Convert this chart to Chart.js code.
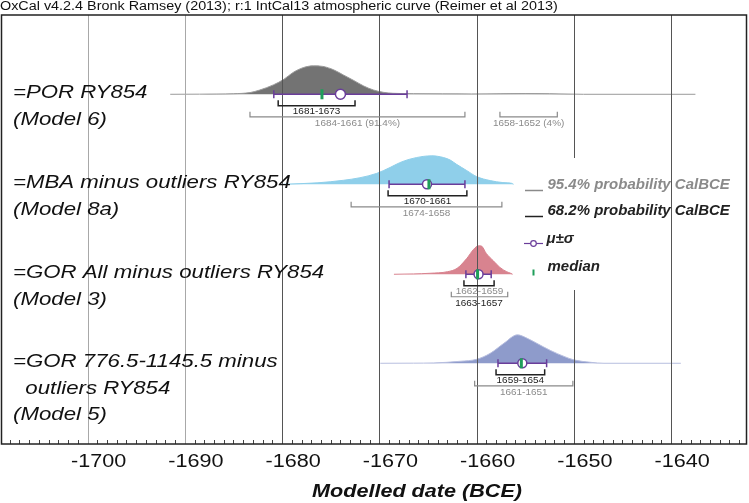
<!DOCTYPE html>
<html>
<head>
<meta charset="utf-8">
<script src="https://cdn.jsdelivr.net/npm/chart.js@4.4.1/dist/chart.umd.min.js"></script>
<style>
  html, body { margin: 0; padding: 0; background: #fff; }
  #wrap { width: 749px; height: 503px; }
</style>
</head>
<body>
<div id="wrap"><canvas id="oxcal" width="749" height="503"></canvas></div>
<script>
// --- values ---
const titleText = 'OxCal v4.2.4 Bronk Ramsey (2013); r:1 IntCal13 atmospheric curve (Reimer et al 2013)';
const axisTitle = 'Modelled date (BCE)';
const tickValues = [-1700, -1690, -1680, -1670, -1660, -1650, -1640];
const tickLabels = ['-1700', '-1690', '-1680', '-1670', '-1660', '-1650', '-1640'];

const sampleNames = [
  ['=POR RY854', '(Model 6)'],
  ['=MBA minus outliers RY854', '(Model 8a)'],
  ['=GOR All minus outliers RY854', '(Model 3)'],
  ['=GOR 776.5-1145.5 minus', '  outliers RY854', '(Model 5)']
];

// posterior densities (relative, peak = 1)
const porYears = [-1691.5, -1688.5, -1686.7, -1685.0, -1683.3, -1682.3, -1680.9, -1679.8, -1678.9, -1677.8,
  -1676.8, -1675.8, -1674.7, -1673.7, -1672.6, -1671.6, -1670.6, -1669.6, -1668.6, -1666.5,
  -1663.5, -1660.5, -1657.5, -1655.0, -1652.5, -1650.5, -1649.0, -1637.5];
const porProb = [0, 0.004, 0.01, 0.02, 0.06, 0.15, 0.33, 0.53, 0.76, 0.94,
  1.0, 0.98, 0.86, 0.68, 0.48, 0.29, 0.15, 0.07, 0.035, 0.022,
  0.015, 0.012, 0.02, 0.025, 0.02, 0.008, 0, 0];

const mbaYears = [-1679.9, -1676.4, -1673.7, -1672.0, -1670.3, -1668.9, -1667.9, -1666.9, -1665.5, -1664.6,
  -1663.4, -1662.7, -1662.1, -1661.0, -1660.0, -1658.6, -1657.3, -1656.4, -1656.2];
const mbaProb = [0, 0.05, 0.14, 0.23, 0.38, 0.59, 0.76, 0.88, 0.98, 1.0,
  0.94, 0.85, 0.71, 0.48, 0.27, 0.13, 0.06, 0.035, 0];

const gorAllYears = [-1668.5, -1666.5, -1664.8, -1663.0, -1662.0, -1661.0, -1660.3, -1659.8, -1659.5, -1659.0,
  -1658.3, -1657.6, -1656.9, -1656.5, -1656.3];
const gorAllProb = [0, 0.012, 0.035, 0.09, 0.21, 0.56, 0.88, 1.0, 0.99, 0.73,
  0.48, 0.24, 0.09, 0.035, 0];

const gor776Years = [-1669.9, -1666.5, -1664.4, -1661.7, -1660.0, -1658.6, -1657.2, -1655.8, -1654.8, -1653.8,
  -1652.4, -1651.0, -1650.0, -1648.3, -1646.9, -1639.0];
const gor776Prob = [0, 0.004, 0.012, 0.07, 0.14, 0.35, 0.7, 1.0, 0.88, 0.7,
  0.45, 0.24, 0.12, 0.035, 0, 0];

// highest posterior density ranges (astronomical years) and their labels
const range68 = [[-1680.4, -1672.5], [-1669.1, -1661.0], [-1661.3, -1658.2], [-1658.0, -1653.0]];
const range95 = [
  [[-1683.3, -1661.2], [-1657.6, -1651.7]],
  [[-1672.9, -1657.4]],
  [[-1662.6, -1656.8]],
  [[-1660.2, -1650.1]]
];
const label68 = ['1681-1673', '1670-1661', '1663-1657', '1659-1654'];
const label95 = [['1684-1661 (91.4%)', '1658-1652 (4%)'], ['1674-1658'], ['1662-1659'], ['1661-1651']];

// mean, sigma, median
const means = [-1674.0, -1665.1, -1659.8, -1655.3];
const sigmas = [6.85, 3.9, 1.3, 2.5];
const medians = [-1675.9, -1664.9, -1659.9, -1655.4];

const legendLabels = ['95.4% probability CalBCE', '68.2% probability CalBCE', 'μ±σ', 'median'];

// --- layout / style ---
const X_MIN = -1708.9, X_MAX = -1632.3;
const Y_MAX = 4.767;                 // rows are ~1 unit apart
const ROW_BASE = [0.881, 1.881, 2.881, 3.870];
const PEAK_H = 0.316;
const SWAP_LABELS = [false, false, true, false];
const FILL = ['#737373', '#8fcfea', '#d8838f', '#8e9bcb'];
const EDGE = ['#9a9a9a', '#8fcfea', '#d8838f', '#b7bedf'];
const PURPLE = '#6a3d9a', GREEN = '#1f9e5a', DARK = '#222222', GREY = '#8a8a8a';
const FONT = '"Liberation Sans", Arial, Helvetica, sans-serif';

const dists = [[porYears, porProb], [mbaYears, mbaProb], [gorAllYears, gorAllProb], [gor776Years, gor776Prob]];

const datasets = dists.map(([yrs, pr], i) => ({
  data: yrs.map((yr, k) => ({ x: yr, y: ROW_BASE[i] - pr[k] * PEAK_H })),
  backgroundColor: FILL[i],
  borderColor: EDGE[i],
  borderWidth: 1,
  pointRadius: 0,
  cubicInterpolationMode: 'monotone',
  fill: { value: ROW_BASE[i] }
}));

// draw text squeezed/stretched horizontally like the original export
function drawText(ctx, str, x, y, font, color, align, sx) {
  ctx.save();
  ctx.font = font;
  ctx.fillStyle = color;
  ctx.textAlign = align;
  ctx.textBaseline = 'middle';
  ctx.translate(x, y);
  ctx.scale(sx, 1);
  ctx.fillText(str, 0, 0);
  ctx.restore();
}

function drawBracket(ctx, x1, x2, yTop, yBot, color, lw) {
  ctx.strokeStyle = color;
  ctx.lineWidth = lw;
  ctx.beginPath();
  ctx.moveTo(x1, yTop);
  ctx.lineTo(x1, yBot);
  ctx.lineTo(x2, yBot);
  ctx.lineTo(x2, yTop);
  ctx.stroke();
}

const oxcalDecor = {
  id: 'oxcalDecor',
  afterDatasetsDraw(chart) {
    const { ctx, chartArea: a, scales: { x, y } } = chart;
    ctx.save();

    // vertical grid lines, over the densities
    tickValues.forEach((v, i) => {
      const px = Math.round(x.getPixelForValue(v)) + 0.5;
      ctx.strokeStyle = i < 2 ? '#a8a8a8' : '#555555';
      ctx.lineWidth = 1;
      ctx.beginPath();
      ctx.moveTo(px, a.top);
      ctx.lineTo(px, a.bottom);
      ctx.stroke();
    });

    // legend backdrop hides the grid behind it
    ctx.fillStyle = '#ffffff';
    ctx.fillRect(518, 158, 147, 132);

    // minor ticks (one per year)
    ctx.strokeStyle = '#444';
    ctx.lineWidth = 1;
    for (let yr = Math.ceil(X_MIN); yr <= X_MAX; yr++) {
      if (yr % 10 === 0) continue;
      const px = Math.round(x.getPixelForValue(yr)) + 0.5;
      ctx.beginPath();
      ctx.moveTo(px, a.bottom);
      ctx.lineTo(px, a.bottom - 4);
      ctx.stroke();
    }

    // frame
    ctx.strokeStyle = DARK;
    ctx.lineWidth = 1.5;
    ctx.strokeRect(a.left + 0.5, a.top, a.right - a.left, a.bottom - a.top);

    const smallFont = '9.3px ' + FONT;
    ROW_BASE.forEach((base, r) => {
      const by = y.getPixelForValue(base);

      // 68.2% bracket
      const [a1, a2] = range68[r];
      const p1 = x.getPixelForValue(a1), p2 = x.getPixelForValue(a2);
      drawBracket(ctx, p1, p2, by + 6, by + 11.5, DARK, 1.5);

      // 95.4% brackets
      range95[r].forEach(([b1, b2]) => {
        drawBracket(ctx, x.getPixelForValue(b1), x.getPixelForValue(b2), by + 17.5, by + 22.5, GREY, 1.2);
      });

      // range labels
      const upperY = by + 17.5, lowerY = by + 29.5;
      if (!SWAP_LABELS[r]) {
        drawText(ctx, label68[r], (p1 + p2) / 2, upperY, smallFont, DARK, 'center', 1.07);
        range95[r].forEach(([b1, b2], k) => {
          const cx = (x.getPixelForValue(b1) + x.getPixelForValue(b2)) / 2;
          drawText(ctx, label95[r][k], cx, lowerY, smallFont, GREY, 'center', 1.07);
        });
      } else {
        range95[r].forEach(([b1, b2], k) => {
          const cx = (x.getPixelForValue(b1) + x.getPixelForValue(b2)) / 2;
          drawText(ctx, label95[r][k], cx, upperY, smallFont, GREY, 'center', 1.07);
        });
        drawText(ctx, label68[r], (p1 + p2) / 2, lowerY, smallFont, DARK, 'center', 1.07);
      }

      // mu +- sigma
      const m = x.getPixelForValue(means[r]);
      const s1 = x.getPixelForValue(means[r] - sigmas[r]);
      const s2 = x.getPixelForValue(means[r] + sigmas[r]);
      ctx.strokeStyle = PURPLE;
      ctx.lineWidth = 1.5;
      ctx.beginPath();
      ctx.moveTo(s1, by); ctx.lineTo(s2, by);
      ctx.moveTo(s1, by - 4); ctx.lineTo(s1, by + 4);
      ctx.moveTo(s2, by - 4); ctx.lineTo(s2, by + 4);
      ctx.stroke();
      ctx.fillStyle = '#ffffff';
      ctx.beginPath();
      ctx.arc(m, by, r === 0 ? 5 : 4.5, 0, Math.PI * 2);
      ctx.fill();
      ctx.stroke();

      // median
      ctx.fillStyle = GREEN;
      ctx.fillRect(x.getPixelForValue(medians[r]) - 1.5, by - 5, 3, 10);

      // sample names
      sampleNames[r].forEach((line, k) => {
        drawText(ctx, line, 13, by - 1.5 + k * 26.5, 'italic 19px ' + FONT, '#111', 'left', 1.17);
      });
    });

    // legend
    const lf = 'italic bold 14px ' + FONT;
    ctx.lineWidth = 1.5;
    ctx.strokeStyle = GREY;
    ctx.beginPath(); ctx.moveTo(525, 190.5); ctx.lineTo(543, 190.5); ctx.stroke();
    drawText(ctx, legendLabels[0], 547.5, 185, lf, GREY, 'left', 1.07);
    ctx.strokeStyle = DARK;
    ctx.beginPath(); ctx.moveTo(525, 216.5); ctx.lineTo(543, 216.5); ctx.stroke();
    drawText(ctx, legendLabels[1], 547.5, 211.5, lf, DARK, 'left', 1.07);
    ctx.strokeStyle = PURPLE;
    ctx.lineWidth = 1.2;
    ctx.beginPath(); ctx.moveTo(524, 243.5); ctx.lineTo(543, 243.5); ctx.stroke();
    ctx.fillStyle = '#fff';
    ctx.beginPath(); ctx.arc(533.5, 243.5, 2.8, 0, Math.PI * 2); ctx.fill(); ctx.stroke();
    drawText(ctx, legendLabels[2], 546.5, 239, lf, DARK, 'left', 1.07);
    ctx.fillStyle = GREEN;
    ctx.fillRect(532.5, 269.5, 2, 6);
    drawText(ctx, legendLabels[3], 547.5, 267.5, lf, DARK, 'left', 1.07);

    // tick labels and titles
    tickValues.forEach((v, i) => {
      drawText(ctx, tickLabels[i], x.getPixelForValue(v) + 11, 462, '18px ' + FONT, '#111', 'center', 1.2);
    });
    drawText(ctx, axisTitle, 417, 492, 'italic bold 18px ' + FONT, '#111', 'center', 1.2);
    drawText(ctx, titleText, 0, 7, '12.5px ' + FONT, '#111', 'left', 1.15);

    ctx.restore();
  }
};

new Chart(document.getElementById('oxcal'), {
  type: 'line',
  data: { datasets },
  options: {
    responsive: false,
    animation: false,
    devicePixelRatio: 1,
    layout: { padding: { left: 1, right: 3, top: 15, bottom: 59 } },
    scales: {
      x: { type: 'linear', min: X_MIN, max: X_MAX, display: false },
      y: { type: 'linear', min: 0, max: Y_MAX, reverse: true, display: false }
    },
    plugins: { legend: { display: false }, tooltip: { enabled: false } }
  },
  plugins: [oxcalDecor]
});
</script>
</body>
</html>
